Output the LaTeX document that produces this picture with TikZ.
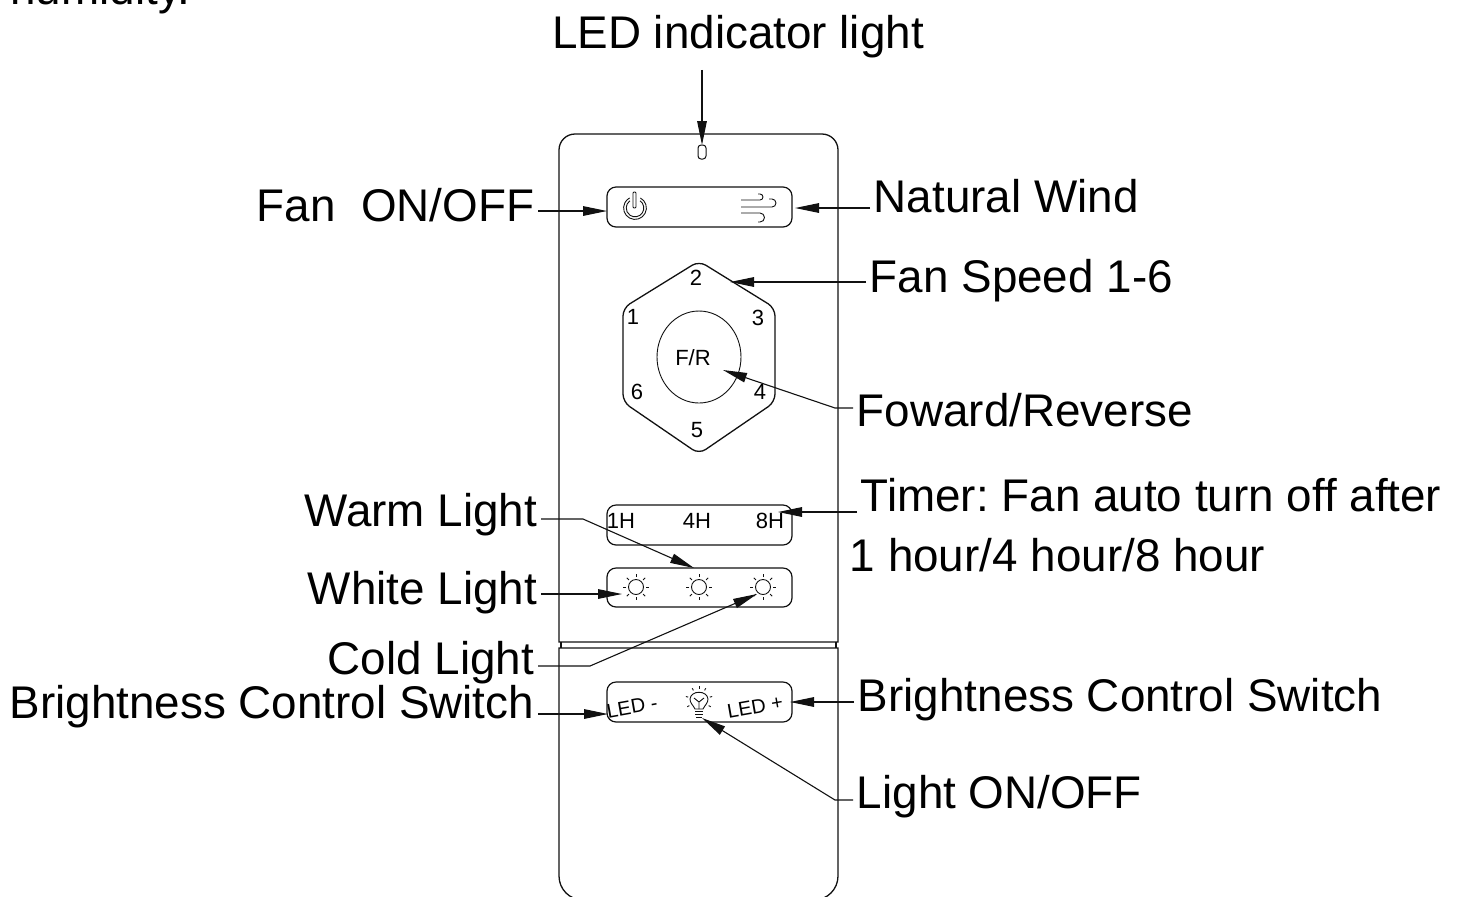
\documentclass[tikz,border=0pt]{standalone}
\usepackage{fontspec}
\setmainfont{Liberation Sans}
\frenchspacing
\usetikzlibrary{arrows.meta,calc}
\definecolor{remoteInk}{HTML}{111111}
\newcommand{\sunicon}[2]{%
  \draw[thin line] (#1,#2) circle (3.75pt);
  \foreach \ang in {0,45,...,315}
    \draw[thin line] ($(#1,#2)+(\ang:5pt)$) -- ($(#1,#2)+(\ang:6.5pt)$);
}
\begin{document}
\begin{tikzpicture}[x=0.5pt, y=-0.5pt,
      shell/.style={draw=remoteInk, line width=0.65pt},
      thin line/.style={draw=remoteInk, line width=0.45pt},
      btn/.style={draw=remoteInk, line width=0.6pt, rounded corners=4.5pt},
      a/.style={-{Triangle[length=12pt, width=4.8pt]}, color=remoteInk, line width=0.55pt},
      lblL/.style={font=\fontsize{22.9}{27}\selectfont, anchor=base east, inner sep=1.75pt},
      lblR/.style={font=\fontsize{22.9}{27}\selectfont, anchor=base west, inner sep=1.75pt},
      key/.style={font=\fontsize{11}{13}\selectfont, inner sep=0pt}]
    \useasboundingbox (0,0) rectangle (1463,896);
    % body
    \draw[shell] (559,642) -- (559,150) arc[start angle=180, end angle=90, radius=8pt]
      -- (822,134) arc[start angle=90, end angle=0, radius=8pt] -- (838,642) -- cycle;
    \draw[shell] (561,642) -- (561,648) (836,642) -- (836,648);
    \draw[shell] (583,900) arc[start angle=270, end angle=180, radius=12pt] -- (559,648)
      -- (838,648) -- (838,876) arc[start angle=0, end angle=-90, radius=12pt];
    % led
    \node[draw=remoteInk, line width=0.5pt, rounded corners=1.5pt, minimum width=4pt,
      minimum height=7pt, inner sep=0pt] (led) at (702,152) {};
    % buttons
    \draw[btn] (607,187) rectangle (792,227);
    \draw[btn] (607,505) rectangle (792,545);
    \draw[btn] (607,568) rectangle (792,607);
    \draw[btn] (607,682) rectangle (792,722);
    % power icon
    \draw[thin line] ($(635,208)+(62:5.7pt)$) arc[start angle=62, end angle=-242, radius=5.7pt];
    \draw[thin line] ($(635,208)+(55:4.4pt)$) arc[start angle=55, end angle=-235, radius=4.4pt];
    \draw[thin line, rounded corners=0.5pt] (633,208) -- (633,192) -- (636,192) -- (636,208) -- cycle;
    % wind icon
    \draw[thin line] (741,200) -- (760,200) arc[start angle=-90, end angle=90, radius=1.5pt] -- (758,194);
    \draw[thin line] (741,207) -- (772,207) arc[start angle=-90, end angle=90, radius=2pt] -- (769,199);
    \draw[thin line] (741,213) -- (760,213) arc[start angle=90, end angle=-90, radius=2.25pt] -- (758,222);
    % hexagon
    \draw[shell, rounded corners=4pt] (699,261) -- (775,308) -- (775,402) -- (699,454)
      -- (623,402) -- (623,308) -- cycle;
    \draw[thin line] (699,357) ellipse[x radius=21pt, y radius=23pt];
    \node[key] (k2) at (696,278) {2};
    \node[key] (k1) at (633,317) {1};
    \node[key] (k3) at (758,318) {3};
    \node[key] (k6) at (637,392) {6};
    \node[key] (k4) at (760,392) {4};
    \node[key] (k5) at (697,430) {5};
    \node[key] (kfr) at (693,358) {F/R};
    % timer keys
    \node[key] (t1) at (621,521) {1H};
    \node[key] (t4) at (697,521) {4H};
    \node[key] (t8) at (770,521) {8H};
    % suns
    \sunicon{636}{587}
    \sunicon{699}{587}
    \sunicon{763}{587}
    % led keys
    \node[key, font=\fontsize{10}{12}\selectfont, rotate=10] (ledm) at (632,707) {LED -};
    \node[key, font=\fontsize{10}{12}\selectfont, rotate=10] (ledp) at (755,707) {LED +};
    % bulb
    \draw[thin line] (695,709) .. controls (693,705) and (690,703) .. (690,699)
      .. controls (691,690) and (707,690) .. (708,699)
      .. controls (708,703) and (705,705) .. (703,709) -- cycle;
    \draw[thin line] (699,709) -- (699,702) -- (694,698) (699,702) -- (704,698);
    \draw[thin line] (695,711) -- (703,711) (695,714) -- (703,714) (696,717) -- (702,717);
    \foreach \ang in {-30,15,60,90,120,165,210}
      \draw[thin line] ($(699,700)+(\ang:5.6pt)$) -- ($(699,700)+(\ang:6.8pt)$);
    % tips and elbows
    \coordinate (cLed) at (702,145);
    \coordinate (cFan) at (607,211);
    \coordinate (cWind) at (795,208);
    \coordinate (cSpeed) at (730,282);
    \coordinate (eFr) at (835,408);
    \coordinate (cFr) at (723,370);
    \coordinate (cTimer) at (778,512);
    \coordinate (eWarm) at (583,519);
    \coordinate (cWarm) at (694,568);
    \coordinate (cWhite) at (622,594);
    \coordinate (eCold) at (590,666);
    \coordinate (cCold) at (757,594);
    \coordinate (cBrL) at (608,714);
    \coordinate (cBrR) at (790,702);
    \coordinate (eOn) at (835,800);
    \coordinate (cOn) at (702,718);
    % labels
    \node[font=\fontsize{22.9}{27}\selectfont, anchor=base west, inner sep=0pt] (lTop) at (10,4) {humidity.};
    \node[font=\fontsize{22.9}{27}\selectfont, anchor=base, inner sep=2pt] (lLed) at (738,48) {LED indicator light};
    \node[lblL] (lFan) at (538,221) {Fan\ \ ON/OFF};
    \node[lblR] (lWind) at (870,212) {Natural Wind};
    \node[lblR] (lSpeed) at (866,292) {Fan Speed 1-6};
    \node[lblR] (lFr) at (853,426) {Foward/Reverse};
    \node[lblR] (lTimer) at (857,511) {Timer: Fan auto turn off after};
    \node[lblR] (lTimerB) at (846,571) {1 hour/4 hour/8 hour};
    \node[lblL] (lWarm) at (541,526) {Warm Light};
    \node[lblL] (lWhite) at (541,604) {White Light};
    \node[lblL] (lCold) at (538,674) {Cold Light};
    \node[lblL] (lBrL) at (538,718) {Brightness Control Switch};
    \node[lblR] (lBrR) at (854,711) {Brightness Control Switch};
    \node[lblR] (lOn) at (853,808) {Light ON/OFF};
    % connectors
    \draw[a] (lLed.south -| cLed) ++(0,8) -- (cLed);
    \draw[a] (lFan.east |- cFan) -- (cFan);
    \draw[a] (lWind.west |- cWind) -- (cWind);
    \draw[a] (lSpeed.west |- cSpeed) -- (cSpeed);
    \draw[a] (lFr.west |- eFr) -- (eFr) -- (cFr);
    \draw[a] (lTimer.west |- cTimer) -- (cTimer);
    \draw[a] (lWarm.east |- eWarm) -- (eWarm) -- (cWarm);
    \draw[a] (lWhite.east |- cWhite) -- (cWhite);
    \draw[a] (lCold.east |- eCold) -- (eCold) -- (cCold);
    \draw[a] (lBrL.east |- cBrL) -- (cBrL);
    \draw[a] (lBrR.west |- cBrR) -- (cBrR);
    \draw[a] (lOn.west |- eOn) -- (eOn) -- (cOn);
  \end{tikzpicture}
\end{document}
